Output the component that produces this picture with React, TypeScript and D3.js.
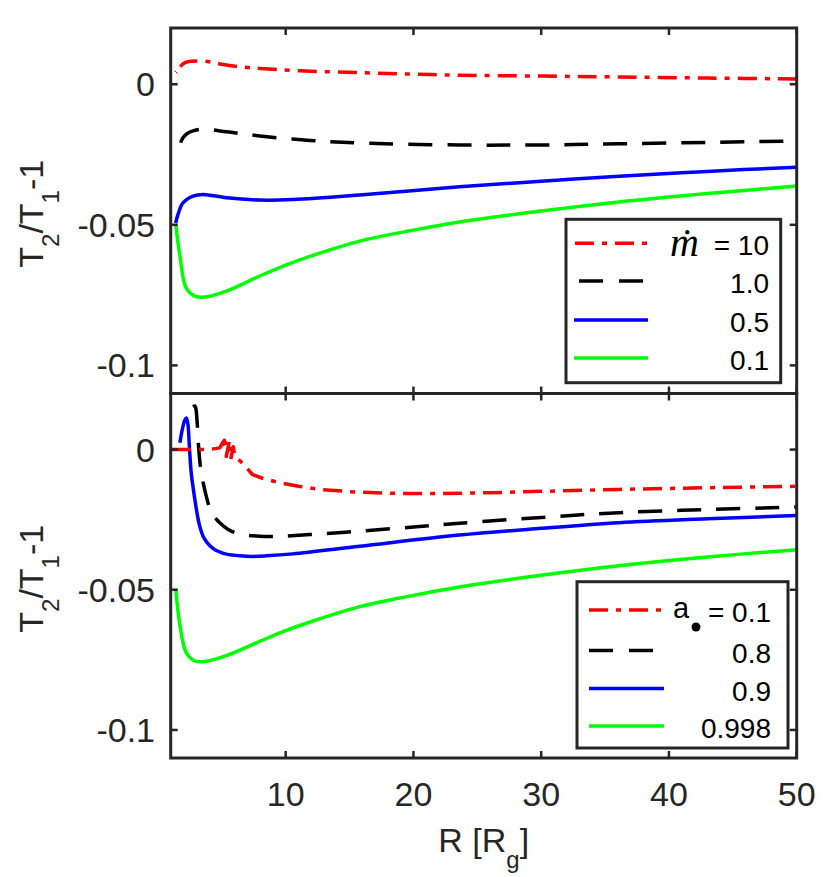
import React from "react";
import * as d3 from "d3";

// ---------- data ----------
const X_DOMAIN: [number, number] = [1, 50];
const Y_DOMAIN: [number, number] = [-0.11, 0.02];
const X_TICKS = [10, 20, 30, 40, 50];
const X_TICK_LABELS = ["10", "20", "30", "40", "50"];
const Y_TICKS = [0, -0.05, -0.1];
const Y_TICK_LABELS = ["0", "-0.05", "-0.1"];

// top panel (mdot varies)
const topRedR = [1.75, 2.0, 2.4, 3.0, 4.0, 5.0, 6.4, 8.0, 11.1, 15.8, 20, 23.6, 30, 36.1, 43, 50];
const topRedV = [0.0062, 0.0074, 0.0081, 0.0083, 0.0080, 0.0071, 0.0062, 0.0056, 0.0048, 0.0041, 0.0036, 0.0032, 0.0029, 0.0026, 0.0022, 0.0019];
const topRedThinR = [1.3, 1.55];
const topRedThinV = [0.0048, 0.0038];
const topBlackR = [1.78, 1.96, 2.3, 2.75, 3.5, 5.36, 7.97, 11.9, 15.8, 23.6, 30, 36.1, 43, 50];
const topBlackV = [-0.0208, -0.019, -0.0175, -0.0166, -0.016, -0.0169, -0.0184, -0.0200, -0.0209, -0.0216, -0.0216, -0.0212, -0.0207, -0.0202];
const topBlueR = [1.39, 1.57, 1.96, 2.75, 3.53, 5.36, 7.97, 10.57, 15.8, 23.6, 30, 36.1, 43, 50];
const topBlueV = [-0.0494, -0.0463, -0.0422, -0.0398, -0.0392, -0.0404, -0.0412, -0.0410, -0.0394, -0.0365, -0.0345, -0.0327, -0.0310, -0.0295];
const topGreenR = [1.39, 1.7, 2.2, 2.8, 3.53, 5.36, 7.97, 10, 11.9, 15.8, 20, 23.6, 30, 36.1, 43, 50];
const topGreenV = [-0.0497, -0.0604, -0.0724, -0.0752, -0.0758, -0.0736, -0.0682, -0.0643, -0.0612, -0.0558, -0.0519, -0.0490, -0.0451, -0.0419, -0.0389, -0.0362];

// bottom panel (spin varies)
const botRedR = [1.1, 2, 3, 4, 4.84, 5.1, 5.3, 5.2, 5.45, 5.35, 5.6, 5.75, 5.7, 5.9, 6.0, 6.3, 6.6, 7.4, 8.3, 9.53, 11, 12.66, 15, 18, 22, 26, 30, 36.1, 43, 50];
const botRedV = [0, 0, 0, 0, 0.0006, 0.0028, 0.001, 0.0033, 0.0005, -0.0025, 0.0032, 0.002, -0.0035, 0.001, -0.002, -0.0035, -0.0048, -0.0089, -0.0104, -0.0118, -0.0131, -0.0142, -0.015, -0.0156, -0.0157, -0.0154, -0.0149, -0.0142, -0.0136, -0.0131];
const botBlackR = [2.74, 2.78, 2.82, 2.95, 3.05, 3.2, 3.35, 3.53, 3.75, 4.05, 4.4, 4.84, 5.5, 6.4, 7.97, 9.53, 11.9, 15.8, 20, 23.6, 30, 36.1, 43, 50];
const botBlackV = [0.03, 0.025, 0.016, 0.015, 0.011, 0.0, -0.007, -0.0115, -0.016, -0.0208, -0.0238, -0.0261, -0.0285, -0.0301, -0.0309, -0.0309, -0.0303, -0.0291, -0.0276, -0.0263, -0.0242, -0.0225, -0.0214, -0.0205];
const botBlueR = [1.72, 1.9, 2.1, 2.23, 2.35, 2.45, 2.6, 2.8, 3.0, 3.27, 3.6, 4.05, 4.5, 5.0, 5.36, 6.4, 7.42, 8.5, 10.55, 15.8, 23.6, 30, 36.1, 43, 50];
const botBlueV = [0.0024, 0.007, 0.0105, 0.0113, 0.009, 0.002, -0.008, -0.015, -0.021, -0.0273, -0.0315, -0.0342, -0.0358, -0.0368, -0.0373, -0.0379, -0.0381, -0.0379, -0.0372, -0.0345, -0.0305, -0.0281, -0.0261, -0.0247, -0.0235];
const botGreenR = [1.39, 1.7, 2.2, 2.8, 3.5, 5.36, 7.97, 10, 11.9, 15.8, 20, 23.6, 30, 36.1, 43, 50];
const botGreenV = [-0.0496, -0.062, -0.0723, -0.0752, -0.0757, -0.0735, -0.0684, -0.0646, -0.0615, -0.0560, -0.0520, -0.0490, -0.0448, -0.0414, -0.0383, -0.0357];

const topLegendLabels = ["= 10", "1.0", "0.5", "0.1"];
const botLegendLabels = ["= 0.1", "0.8", "0.9", "0.998"];

// ---------- layout ----------
const W = 830;
const H = 877;
const LEFT = 170.7;
const RIGHT = 796.7;
const TOP_PANEL = { y0: 28, y1: 393.5 };
const BOT_PANEL = { y0: 393.5, y1: 758 };
const AX = "#262626";
const FONT = "'Liberation Sans', Arial, Helvetica, sans-serif";
const RED = "#ff0000";
const BLUE = "#0000ff";
const GREEN = "#00ff00";
const DASH_DOT = "19,8,5,8";
const DASH = "24,15";
const LW = 3.5;

const xScale = d3.scaleLinear().domain(X_DOMAIN).range([LEFT, RIGHT]);

function zip(r: number[], v: number[]): [number, number][] {
  return r.map((x, i) => [x, v[i]]);
}

type Series = { r: number[]; v: number[]; color: string; dash?: string; width?: number; linear?: boolean };

function Panel({ y0, y1, series, id, showXLabels }: { y0: number; y1: number; series: Series[]; id: string; showXLabels: boolean }) {
  const yScale = d3.scaleLinear().domain(Y_DOMAIN).range([y1, y0]);
  const TL = 7;
  return (
    <g>
      <defs>
        <clipPath id={id}>
          <rect x={LEFT} y={y0} width={RIGHT - LEFT} height={y1 - y0} />
        </clipPath>
      </defs>
      <g clipPath={`url(#${id})`}>
        {series.map((s, i) => {
          const line = d3
            .line<[number, number]>()
            .x((d) => xScale(d[0]))
            .y((d) => yScale(d[1]))
            .curve(s.linear ? d3.curveLinear : d3.curveCatmullRom.alpha(0.5));
          return (
            <path
              key={i}
              d={line(zip(s.r, s.v)) || ""}
              fill="none"
              stroke={s.color}
              strokeWidth={s.width ?? LW}
              strokeDasharray={s.dash}
              strokeLinejoin="round"
            />
          );
        })}
      </g>
      {X_TICKS.map((t) => (
        <g key={"xt" + t}>
          <line x1={xScale(t)} x2={xScale(t)} y1={y1} y2={y1 - TL} stroke={AX} strokeWidth={2.5} />
          <line x1={xScale(t)} x2={xScale(t)} y1={y0} y2={y0 + TL} stroke={AX} strokeWidth={2.5} />
        </g>
      ))}
      {Y_TICKS.map((t) => (
        <g key={"yt" + t}>
          <line x1={LEFT} x2={LEFT + TL} y1={yScale(t)} y2={yScale(t)} stroke={AX} strokeWidth={2.5} />
          <line x1={RIGHT} x2={RIGHT - TL} y1={yScale(t)} y2={yScale(t)} stroke={AX} strokeWidth={2.5} />
        </g>
      ))}
      {Y_TICKS.map((t, i) => (
        <text key={"yl" + t} x={155} y={yScale(t) + 12} textAnchor="end" fontSize={34} fontFamily={FONT} fill={AX}>
          {Y_TICK_LABELS[i]}
        </text>
      ))}
      {showXLabels &&
        X_TICKS.map((t, i) => (
          <text key={"xl" + t} x={xScale(t)} y={806} textAnchor="middle" fontSize={34} fontFamily={FONT} fill={AX}>
            {X_TICK_LABELS[i]}
          </text>
        ))}
      <text
        transform={`translate(43, ${(y0 + y1) / 2 + 3}) rotate(-90)`}
        textAnchor="middle"
        fontSize={34}
        fontFamily={FONT}
        fill={AX}
      >
        T<tspan fontSize={24} dy={16}>2</tspan>
        <tspan dy={-16}>/T</tspan>
        <tspan fontSize={24} dy={16}>1</tspan>
        <tspan dy={-16}>-1</tspan>
      </text>
    </g>
  );
}

function LegendBox({
  x0, y0, x1, y1, rows, labels, textRight, samples,
}: {
  x0: number; y0: number; x1: number; y1: number; rows: number[]; labels: string[]; textRight: number;
  samples: { color: string; dash?: string; a: number; b: number }[];
}) {
  return (
    <g>
      <rect x={x0} y={y0} width={x1 - x0} height={y1 - y0} fill="#fff" stroke={AX} strokeWidth={3} />
      {samples.map((s, i) => (
        <line key={i} x1={s.a} x2={s.b} y1={rows[i]} y2={rows[i]} stroke={s.color} strokeWidth={LW} strokeDasharray={s.dash} />
      ))}
      {labels.map((l, i) => (
        <text key={"t" + i} x={textRight} y={rows[i] + 12} textAnchor="end" fontSize={28} fontFamily={FONT} fill="#000">
          {l}
        </text>
      ))}
    </g>
  );
}

export default function App() {
  const topSeries: Series[] = [
    { r: topGreenR, v: topGreenV, color: GREEN },
    { r: topBlueR, v: topBlueV, color: BLUE },
    { r: topBlackR, v: topBlackV, color: "#000", dash: DASH },
    { r: topRedR, v: topRedV, color: RED, dash: DASH_DOT },
    { r: topRedThinR, v: topRedThinV, color: RED, width: 1, linear: true },
  ];
  const botSeries: Series[] = [
    { r: botGreenR, v: botGreenV, color: GREEN },
    { r: botBlueR, v: botBlueV, color: BLUE },
    { r: botBlackR, v: botBlackV, color: "#000", dash: DASH },
    { r: botRedR, v: botRedV, color: RED, dash: DASH_DOT, linear: true },
  ];
  const topRows = [243.3, 281, 320, 358];
  const botRows = [610, 650.5, 688.5, 726];
  return (
    <div style={{ position: "absolute", left: 0, top: 0 }}>
      <svg width={W} height={H} viewBox={`0 0 ${W} ${H}`} style={{ display: "block", background: "#fff" }}>
        <rect x={0} y={0} width={W} height={H} fill="#fff" />
        <Panel y0={TOP_PANEL.y0} y1={TOP_PANEL.y1} series={topSeries} id="clipTop" showXLabels={false} />
        <Panel y0={BOT_PANEL.y0} y1={BOT_PANEL.y1} series={botSeries} id="clipBot" showXLabels={true} />

        <LegendBox
          x0={566} y0={219.3} x1={780.7} y1={382.7}
          rows={topRows}
          labels={topLegendLabels}
          textRight={769}
          samples={[
            { color: RED, dash: DASH_DOT, a: 575, b: 647 },
            { color: "#000", dash: "24,16", a: 579, b: 643 },
            { color: BLUE, a: 574, b: 648 },
            { color: GREEN, a: 574, b: 648 },
          ]}
        />
        <text x={699} y={topRows[0] + 13} textAnchor="end" fontSize={40} fontStyle="italic" fontFamily="'Liberation Serif', 'DejaVu Serif', serif" fill="#000">
          ṁ
        </text>

        <LegendBox
          x0={577} y0={581.7} x1={788} y1={748}
          rows={botRows}
          labels={botLegendLabels}
          textRight={771}
          samples={[
            { color: RED, dash: DASH_DOT, a: 589, b: 662 },
            { color: "#000", dash: "24,16", a: 589, b: 654 },
            { color: BLUE, a: 589, b: 664 },
            { color: GREEN, a: 589, b: 664 },
          ]}
        />
        <text x={673} y={botRows[0] + 8} fontSize={29} fontFamily={FONT} fill="#000">a</text>
        <circle cx={696} cy={627} r={4.5} fill="#000" />

        <rect x={LEFT} y={TOP_PANEL.y0} width={RIGHT - LEFT} height={TOP_PANEL.y1 - TOP_PANEL.y0} fill="none" stroke={AX} strokeWidth={3} />
        <rect x={LEFT} y={BOT_PANEL.y0} width={RIGHT - LEFT} height={BOT_PANEL.y1 - BOT_PANEL.y0} fill="none" stroke={AX} strokeWidth={3} />

        <text x={(LEFT + RIGHT) / 2} y={852} textAnchor="middle" fontSize={34} fontFamily={FONT} fill={AX}>
          R [R<tspan fontSize={24} dy={16}>g</tspan>
          <tspan dy={-16}>]</tspan>
        </text>
      </svg>
    </div>
  );
}
